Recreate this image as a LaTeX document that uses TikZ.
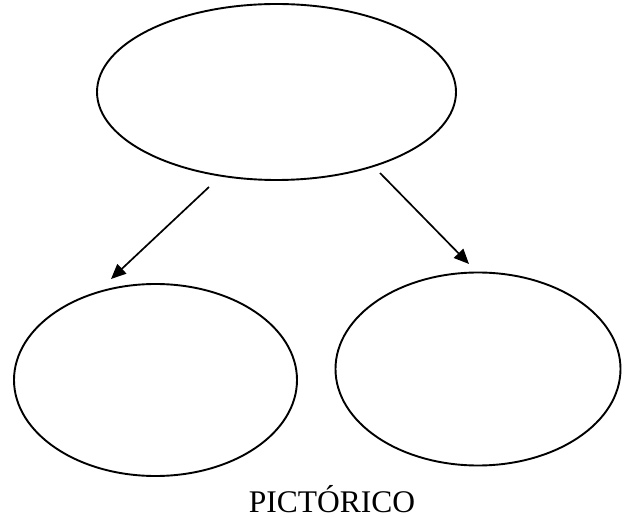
\documentclass[tikz,border=0pt]{standalone}
\usepackage{fontspec}
\setmainfont{Liberation Serif}
\usetikzlibrary{shapes.geometric,arrows.meta}

\begin{document}
\begin{tikzpicture}[x=1pt, y=-1pt,
  bubble/.style={ellipse, draw, line width=1.9pt, inner sep=0pt},
  link/.style={line width=1.7pt, -{Triangle[length=15pt,width=13pt]}}]
\useasboundingbox (0,0) rectangle (626,518);

\node [bubble, minimum width=359pt, minimum height=176pt] (top) at (276.5,92) {};
\node [bubble, minimum width=283pt, minimum height=192pt] (left) at (155.5,380) {};
\node [bubble, minimum width=285pt, minimum height=193pt] (right) at (478,369) {};

\coordinate (ls) at (209,187);
\coordinate (le) at (111,279);
\coordinate (rs) at (380,173);
\coordinate (re) at (469,264);

\draw [link] (ls) -- (le);
\draw [link] (rs) -- (re);

\node [anchor=base, font=\fontsize{31.5}{36}\selectfont, inner sep=0pt] (label) at (332,512) {PICTÓRICO};
\end{tikzpicture}
\end{document}
